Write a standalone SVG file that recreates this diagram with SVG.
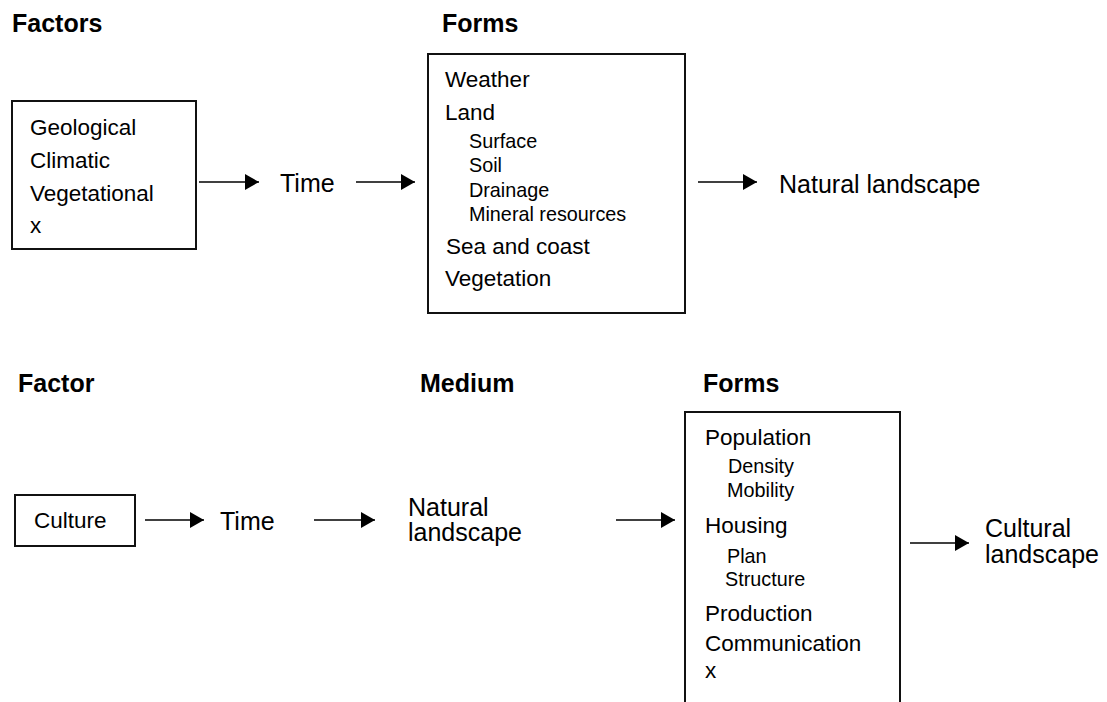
<svg xmlns="http://www.w3.org/2000/svg" width="1107" height="702" viewBox="0 0 1107 702">
<defs>
<style>
text{font-family:"Liberation Sans",Arial,sans-serif;fill:#000}
.h{font-weight:bold;font-size:25px}
.b{font-size:22.5px}
.s{font-size:19.8px}
.t{font-size:25px}
.box{fill:#fff;stroke:#111;stroke-width:2}
.arr{stroke:#000;stroke-width:1.6;fill:none;marker-end:url(#ah)}
</style>
<marker id="ah" viewBox="0 0 14 16" refX="14" refY="8" markerWidth="14" markerHeight="16" markerUnits="userSpaceOnUse" orient="auto">
<path d="M0,0 L14,8 L0,16 Z" fill="#000"/>
</marker>
</defs>
<rect width="1107" height="702" fill="#fff"/>

<g id="headings">
<text class="h" x="12" y="32">Factors</text>
<text class="h" x="442" y="32">Forms</text>
<text class="h" x="18" y="392">Factor</text>
<text class="h" x="420" y="392">Medium</text>
<text class="h" x="703" y="392">Forms</text>
</g>

<g id="factors-box">
<rect class="box" x="12" y="101" width="184" height="148"/>
<text class="b" x="30" y="135">Geological</text>
<text class="b" x="30" y="168">Climatic</text>
<text class="b" x="30" y="201">Vegetational</text>
<text class="b" x="30" y="233">x</text>
</g>

<g id="time-top"><text class="t" x="280" y="192">Time</text></g>

<g id="forms-box-top">
<rect class="box" x="428" y="54" width="257" height="259"/>
<text class="b" x="445" y="87">Weather</text>
<text class="b" x="445" y="120">Land</text>
<text class="s" x="469" y="148">Surface</text>
<text class="s" x="469" y="172">Soil</text>
<text class="s" x="469" y="197">Drainage</text>
<text class="s" x="469" y="221">Mineral resources</text>
<text class="b" x="446" y="254">Sea and coast</text>
<text class="b" x="445" y="286">Vegetation</text>
</g>

<g id="natural-landscape-top"><text class="t" x="779" y="193">Natural landscape</text></g>

<g id="culture-box">
<rect class="box" x="15" y="495" width="120" height="51"/>
<text class="b" x="34" y="528">Culture</text>
</g>

<g id="time-bottom"><text class="t" x="220" y="530">Time</text></g>

<g id="natural-landscape-bottom">
<text class="t" x="408" y="516">Natural</text>
<text class="t" x="408" y="541">landscape</text>
</g>

<g id="forms-box-bottom">
<rect class="box" x="685" y="412" width="215" height="310"/>
<text class="b" x="705" y="445">Population</text>
<text class="s" x="728" y="473">Density</text>
<text class="s" x="727" y="497">Mobility</text>
<text class="b" x="705" y="533">Housing</text>
<text class="s" x="727" y="563">Plan</text>
<text class="s" x="725" y="586">Structure</text>
<text class="b" x="705" y="621">Production</text>
<text class="b" x="705" y="651">Communication</text>
<text class="b" x="705" y="678">x</text>
</g>

<g id="cultural-landscape">
<text class="t" x="985" y="537">Cultural</text>
<text class="t" x="985" y="563">landscape</text>
</g>

<g id="connectors">
<line class="arr" x1="199" y1="182" x2="259" y2="182"/>
<line class="arr" x1="356" y1="182" x2="415" y2="182"/>
<line class="arr" x1="698" y1="182" x2="757" y2="182"/>
<line class="arr" x1="145" y1="520" x2="204" y2="520"/>
<line class="arr" x1="314" y1="520" x2="375" y2="520"/>
<line class="arr" x1="616" y1="520" x2="675" y2="520"/>
<line class="arr" x1="910" y1="543" x2="969" y2="543"/>
</g>
</svg>
